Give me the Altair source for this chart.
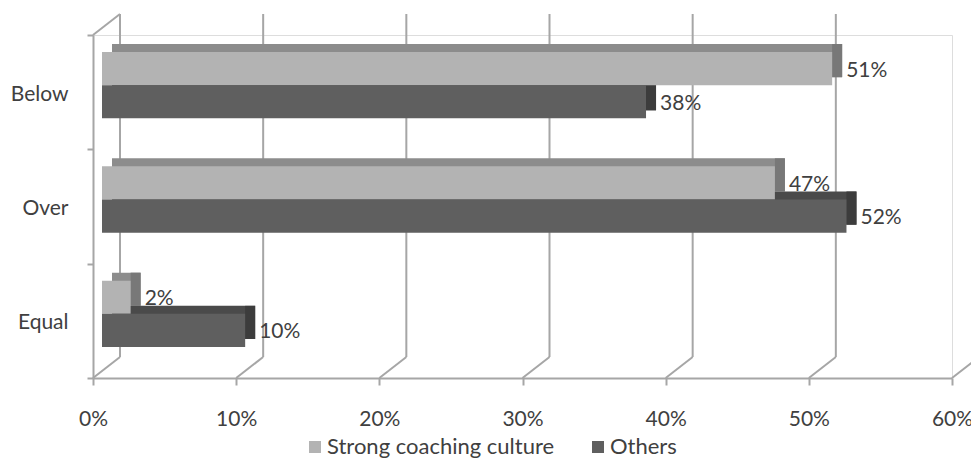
import altair as alt
import pandas as pd

categories = ["Below", "Over", "Equal"]
series = ["Strong coaching culture", "Others"]
strong_values = [51, 47, 2]
others_values = [38, 52, 10]
x_ticks = [0, 10, 20, 30, 40, 50, 60]

rows = []
for c, s_v, o_v in zip(categories, strong_values, others_values):
    rows.append({"Category": c, "Series": series[0], "Value": s_v})
    rows.append({"Category": c, "Series": series[1], "Value": o_v})
df = pd.DataFrame(rows)
ticks_df = pd.DataFrame({"t": x_ticks})
cat_df = pd.DataFrame({"Category": categories})

W, H = 859, 343
DX, DY = 27, -21          # wall depth
BX, BY = 9, -7            # bar front-face shift
BDX, BDY = 10, -8         # bar depth
FONT = "Lato"
TXT = "#404040"
GRID = "#a6a6a6"

xscale = alt.Scale(domain=[0, 60], nice=False, zero=True)


def yscale(shift):
    return alt.Scale(domain=categories, paddingInner=0.42, paddingOuter=0.21,
                     range=[shift, H + shift])


yoff_scale = alt.Scale(domain=series, paddingInner=0, paddingOuter=0)

x_axis = alt.Axis(values=x_ticks, labelExpr="datum.value + '%'", grid=False,
                  domainColor=GRID, domainWidth=2, tickColor=GRID, tickWidth=2,
                  tickSize=7, labelPadding=23, labelFontSize=21, labelFont=FONT,
                  labelColor=TXT, labelFlush=False, labelOverlap=False, title=None)
y_axis = alt.Axis(domainColor=GRID, domainWidth=2, tickColor=GRID, tickWidth=2,
                  tickSize=6, tickBand="extent", labelPadding=19, labelOffset=2,
                  labelFontSize=21, labelFont=FONT, labelColor=TXT, title=None)

axis_layer = alt.Chart(cat_df).mark_point(opacity=0).encode(
    y=alt.Y("Category:N", sort=categories, axis=y_axis,
            scale=alt.Scale(domain=categories, paddingInner=0, paddingOuter=0, range=[0, H])),
)

# back wall grid lines (the 60% one falls outside the picture)
grid_back = alt.Chart(ticks_df).transform_filter("datum.t < 60").mark_rule(
    color=GRID, strokeWidth=2, xOffset=DX, x2Offset=DX).encode(
    x=alt.X("t:Q", scale=xscale, axis=x_axis),
    y=alt.value(DY), y2=alt.value(H + DY),
)
grid_floor = alt.Chart(ticks_df).mark_rule(color=GRID, strokeWidth=2, xOffset=DX, x2Offset=0).encode(
    x=alt.X("t:Q", scale=xscale), x2="t:Q",
    y=alt.value(H + DY), y2=alt.value(H),
)
wall_top = alt.Chart(ticks_df).transform_filter("datum.t == 0").mark_rule(
    color=GRID, strokeWidth=2, xOffset=0, x2Offset=DX).encode(
    x=alt.X("t:Q", scale=xscale), x2="t:Q",
    y=alt.value(0), y2=alt.value(DY),
)

base = alt.Chart(df)
yoff = alt.YOffset("Series:N", scale=yoff_scale, sort=series)


def ycat(shift):
    return alt.Y("Category:N", scale=yscale(shift), sort=categories, axis=None)


top_face = base.mark_bar(xOffset=BX + BDX, x2Offset=BX + BDX).encode(
    x=alt.X("Value:Q", scale=xscale), x2=alt.datum(0),
    y=ycat(BY + BDY), yOffset=yoff,
    color=alt.condition(alt.datum.Series == "Others", alt.value("#4a4a4a"), alt.value("#8c8c8c")),
)
side_face = base.mark_bar(xOffset=BX, x2Offset=BX + BDX).encode(
    x=alt.X("Value:Q", scale=xscale), x2="Value:Q",
    y=ycat(BY + BDY), yOffset=yoff,
    color=alt.condition(alt.datum.Series == "Others", alt.value("#3c3c3c"), alt.value("#787878")),
)
front_face = base.mark_bar(xOffset=BX, x2Offset=BX).encode(
    x=alt.X("Value:Q", scale=xscale), x2=alt.datum(0),
    y=ycat(BY), yOffset=yoff,
    color=alt.Color("Series:N", scale=alt.Scale(domain=series, range=["#b3b3b3", "#5f5f5f"]),
                    legend=alt.Legend(orient="none", legendX=211, legendY=401, direction="horizontal",
                                      title=None, symbolType="square", symbolSize=144,
                                      symbolStrokeWidth=0, labelFontSize=22, labelFont=FONT,
                                      labelColor=TXT, labelOffset=1, columnPadding=32, padding=0,
                                      labelLimit=0)),
)
labels = base.transform_calculate(lbl="datum.Value + '%'").mark_text(
    align="left", baseline="middle", dx=BX + BDX + 4, dy=2, font=FONT, fontSize=21, color=TXT
).encode(
    x=alt.X("Value:Q", scale=xscale), y=ycat(BY), yOffset=yoff, text="lbl:N",
)

chart = alt.layer(axis_layer, grid_back, grid_floor, wall_top, top_face, side_face, front_face, labels
                  ).resolve_scale(y="independent").properties(
    width=W, height=H, autosize="none",
    padding={"left": 93, "top": 35, "right": 19, "bottom": 82},
).configure_view(stroke=None).configure(background="white")

chart.save("out.html", embed_options={"renderer": "svg", "actions": False})
